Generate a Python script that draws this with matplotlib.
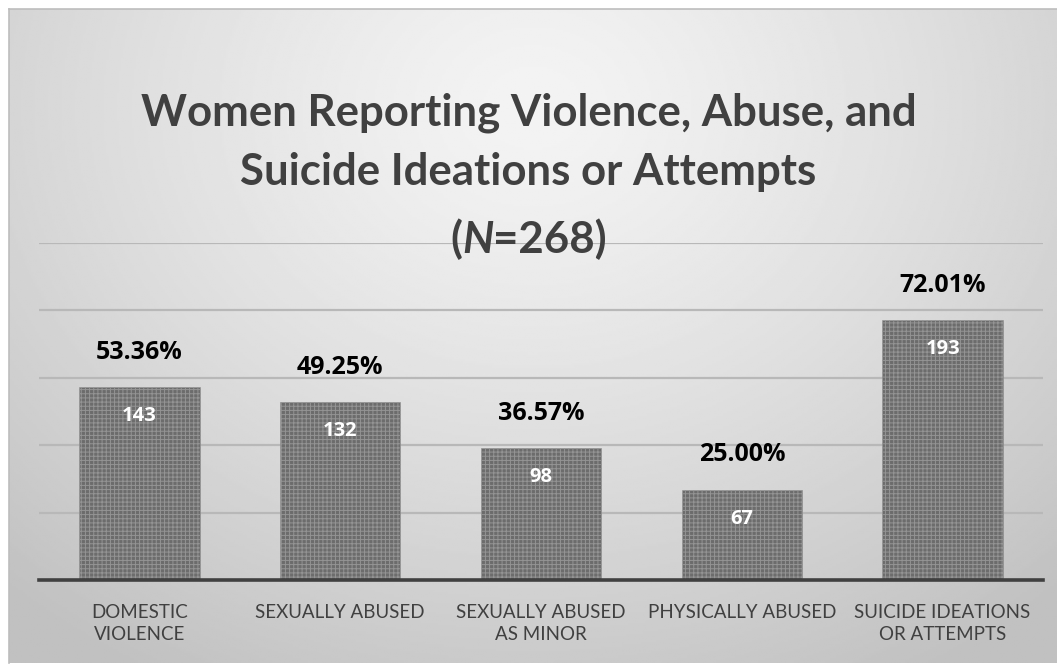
import matplotlib.pyplot as plt
import numpy as np
from matplotlib.offsetbox import TextArea, HPacker, AnnotationBbox

# data
categories = ["DOMESTIC\nVIOLENCE", "SEXUALLY ABUSED", "SEXUALLY ABUSED\nAS MINOR",
              "PHYSICALLY ABUSED", "SUICIDE IDEATIONS\nOR ATTEMPTS"]
counts = [143, 132, 98, 67, 193]
n_total = 268
percents = [f"{c / n_total * 100:.2f}%" for c in counts]

plt.rcParams["font.family"] = ["Lato", "DejaVu Sans"]
plt.rcParams["hatch.linewidth"] = 0.7

fig = plt.figure(figsize=(10.57, 6.67), dpi=100)

# gradient background panel
bg = fig.add_axes([9 / 1057, 4 / 667, 1048 / 1057, 654 / 667])
yy, xx = np.mgrid[0:1:300j, 0:1:500j]
r = np.sqrt(((xx - 0.5) / 0.75) ** 2 + ((yy - 0.15) / 1.0) ** 2)
shade = 0.955 - 0.2 * np.clip(r, 0, 1) ** 1.3
bg.imshow(shade, cmap="gray", vmin=0, vmax=1, aspect="auto",
          extent=[0, 1, 0, 1], origin="upper")
bg.set_xticks([])
bg.set_yticks([])
for s in bg.spines.values():
    s.set_color("#bdbdbd")
    s.set_linewidth(1.2)
bg.spines["bottom"].set_visible(False)
bg.spines["right"].set_visible(False)

# main axes
ax = fig.add_axes([39 / 1057, 1 - 580 / 667, 1004 / 1057, 337 / 667])
ax.patch.set_alpha(0)
x = np.arange(len(categories))
bars = ax.bar(x, counts, width=0.6, color="#6c6c6c", edgecolor="#949494",
              hatch="++++", linewidth=0.4, zorder=3)

ax.set_xlim(-0.5, len(categories) - 0.5)
ax.set_ylim(0, 250)
ax.set_yticks([50, 100, 150, 200, 250])
ax.yaxis.grid(True, color="#b8b8b8", linewidth=1.6, zorder=0)
ax.set_axisbelow(True)
ax.tick_params(left=False, labelleft=False, bottom=False)
for s in ["top", "right", "left"]:
    ax.spines[s].set_visible(False)
ax.spines["bottom"].set_color("#404040")
ax.spines["bottom"].set_linewidth(2.6)
ax.spines["bottom"].set_zorder(4)

ax.set_xticks(x)
ax.set_xticklabels(categories, fontsize=13.5, color="#404040", linespacing=1.3)
ax.tick_params(axis="x", pad=14)

lab_font = ["Open Sans", "DejaVu Sans"]
for xi, c, p in zip(x, counts, percents):
    ax.annotate(p, (xi, c), xytext=(0, 25), textcoords="offset points",
                ha="center", va="center", fontsize=18, fontweight="bold",
                color="black", family=lab_font)
    ax.annotate(str(c), (xi, c), xytext=(0, -21), textcoords="offset points",
                ha="center", va="center", fontsize=14.5, fontweight="bold",
                color="white", zorder=5, family=lab_font)

# title
tprops = dict(fontsize=31.5, fontweight="bold", color="#404040")
fig.text(0.5, 1 - 113 / 667, "Women Reporting Violence, Abuse, and",
         ha="center", va="center", **tprops)
fig.text(0.5, 1 - 172 / 667, "Suicide Ideations or Attempts",
         ha="center", va="center", **tprops)
parts = HPacker(children=[
    TextArea("(", textprops=tprops),
    TextArea("N", textprops=dict(tprops, fontstyle="italic")),
    TextArea("=268)", textprops=tprops),
], pad=0, sep=0, align="baseline")
ab = AnnotationBbox(parts, (0.5, 1 - 239 / 667), xycoords="figure fraction",
                    frameon=False, box_alignment=(0.5, 0.5))
fig.add_artist(ab)

fig.savefig("out.png", dpi=100, facecolor="white")
